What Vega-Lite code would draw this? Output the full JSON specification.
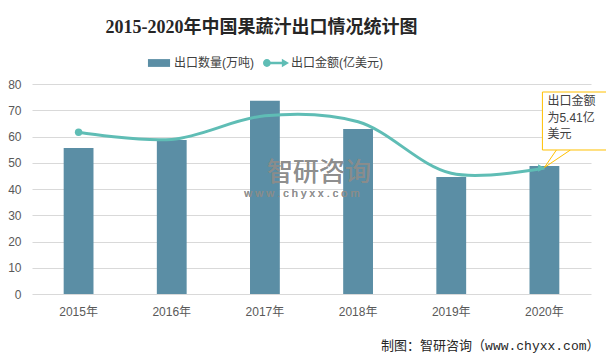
{
  "$schema": "https://vega.github.io/schema/vega-lite/v6.json",
  "width": 559,
  "height": 210,
  "autosize": {"type": "none"},
  "padding": {"left": 32, "top": 84, "right": 15, "bottom": 69},
  "background": "white",
  "title": {
    "text": "2015-2020年中国果蔬汁出口情况统计图",
    "font": "Liberation Serif, Noto Sans CJK SC",
    "fontSize": 18,
    "fontWeight": "bold",
    "color": "#262626",
    "anchor": "middle",
    "dx": -50,
    "offset": 13
  },
  "config": {
    "view": {"stroke": null},
    "axis": {
      "labelFont": "Liberation Sans, Noto Sans CJK SC",
      "labelFontSize": 12,
      "labelColor": "#595959",
      "gridColor": "#d9d9d9",
      "domain": false,
      "ticks": false,
      "tickSize": 0
    }
  },
  "data": {
    "values": [
      {"year": "2015年", "qty": 55.6, "value": 61.6},
      {"year": "2016年", "qty": 58.7, "value": 58.9},
      {"year": "2017年", "qty": 73.6, "value": 67.9},
      {"year": "2018年", "qty": 62.9, "value": 65.6},
      {"year": "2019年", "qty": 44.6, "value": 46.0},
      {"year": "2020年", "qty": 48.8, "value": 48.0}
    ]
  },
  "encoding": {
    "x": {
      "field": "year",
      "type": "nominal",
      "sort": null,
      "scale": {"paddingInner": 0.68, "paddingOuter": 0.34},
      "axis": {
        "labelAngle": 0,
        "labelPadding": 12,
        "grid": false,
        "title": "制图：智研咨询（www.chyxx.com）",
        "titleFont": "Liberation Mono, Noto Sans CJK SC",
        "titleFontSize": 13,
        "titleFontWeight": "normal",
        "titleColor": "#262626",
        "titleAlign": "right",
        "titleAnchor": null,
        "titleX": 567,
        "titleY": 51,
        "titleBaseline": "middle"
      }
    }
  },
  "layer": [
    {
      "mark": {"type": "bar"},
      "encoding": {
        "y": {
          "field": "qty",
          "type": "quantitative",
          "scale": {"domain": [0, 80], "nice": false},
          "axis": {"values": [0, 10, 20, 30, 40, 50, 60, 70, 80], "tickCount": 20, "labelOverlap": false, "title": null, "labelPadding": 11, "grid": true}
        },
        "color": {
          "datum": "出口数量(万吨)",
          "type": "nominal",
          "scale": {"domain": ["出口数量(万吨)", "出口金额(亿美元)"], "range": ["#5b8ea5", "#5fbdb5"]},
          "legend": {
            "title": null,
            "orient": "none",
            "direction": "horizontal",
            "legendX": 114,
            "legendY": -34,
            "labelFont": "Liberation Sans, Noto Sans CJK SC",
            "labelFontSize": 12,
            "labelColor": "#404040",
            "labelOffset": 2,
            "columnPadding": 8,
            "symbolSize": 676,
            "encode": {
              "symbols": {
                "update": {
                  "shape": {"signal": "datum.value === '出口数量(万吨)' ? 'M-0.85,-0.3H0.85V0.3H-0.85Z' : 'M-1,0A0.3,0.3 0 1,1 -0.4,0A0.3,0.3 0 1,1 -1,0ZM-0.45,-0.1H0.5V0.1H-0.45ZM0.45,-0.32L1,0L0.45,0.32Z'"},
                  "fill": {"signal": "datum.value === '出口数量(万吨)' ? '#5b8ea5' : '#5fbdb5'"},
                  "strokeWidth": {"value": 0},
                  "opacity": {"value": 1}
                }
              }
            }
          }
        }
      }
    },
    {
      "mark": {"type": "line", "interpolate": "catmull-rom", "strokeWidth": 3},
      "encoding": {
        "y": {"field": "value", "type": "quantitative"},
        "color": {"datum": "出口金额(亿美元)", "type": "nominal"}
      }
    },
    {
      "transform": [{"filter": "datum.year === '2015年'"}],
      "mark": {"type": "point", "shape": "circle", "filled": true, "size": 55, "color": "#5fbdb5", "opacity": 1},
      "encoding": {"y": {"field": "value", "type": "quantitative"}}
    },
    {
      "transform": [{"filter": "datum.year === '2020年'"}],
      "mark": {"type": "point", "shape": "triangle-right", "filled": true, "size": 60, "color": "#5fbdb5", "opacity": 1, "xOffset": -3},
      "encoding": {"y": {"field": "value", "type": "quantitative"}}
    },
    {
      "mark": {"type": "text", "text": "智研咨询", "font": "Noto Sans CJK SC", "fontSize": 26, "color": "#8c8c8c", "opacity": 0.45, "xOffset": 54, "dy": -1},
      "encoding": {"x": {"datum": "2017年"}, "y": {"datum": 45.7, "type": "quantitative"}}
    },
    {
      "mark": {"type": "text", "text": "w w w . c h y x x . c o m", "font": "Liberation Sans", "fontSize": 11, "color": "#8c8c8c", "opacity": 0.45, "xOffset": 37, "dy": 1},
      "encoding": {"x": {"datum": "2017年"}, "y": {"datum": 38.5, "type": "quantitative"}}
    },
    {
      "transform": [{"filter": "datum.year === '2020年'"}],
      "mark": {"type": "rule", "color": "#ffc000", "strokeWidth": 1, "x2Offset": 12},
      "encoding": {"x2": {"field": "year"}, "y": {"datum": 48.2, "type": "quantitative"}, "y2": {"datum": 54.86}}
    },
    {
      "transform": [{"filter": "datum.year === '2020年'"}],
      "mark": {"type": "rule", "color": "#ffc000", "strokeWidth": 1, "x2Offset": 26},
      "encoding": {"x2": {"field": "year"}, "y": {"datum": 48.2, "type": "quantitative"}, "y2": {"datum": 54.86}}
    },
    {
      "transform": [{"filter": "datum.year === '2020年'"}],
      "mark": {"type": "bar", "width": 68, "xOffset": 32, "fill": "white", "stroke": "#ffc000", "strokeWidth": 1},
      "encoding": {"y": {"datum": 76.95, "type": "quantitative"}, "y2": {"datum": 54.86}}
    },
    {
      "transform": [{"filter": "datum.year === '2020年'"}],
      "mark": {"type": "text", "text": ["出口金额", "为5.41亿", "美元"], "align": "left", "baseline": "top", "xOffset": 3, "dy": 3, "lineHeight": 16.5, "font": "Liberation Sans, Noto Sans CJK SC", "fontSize": 12, "color": "#404040"},
      "encoding": {"y": {"datum": 76.5, "type": "quantitative"}}
    }
  ]
}
